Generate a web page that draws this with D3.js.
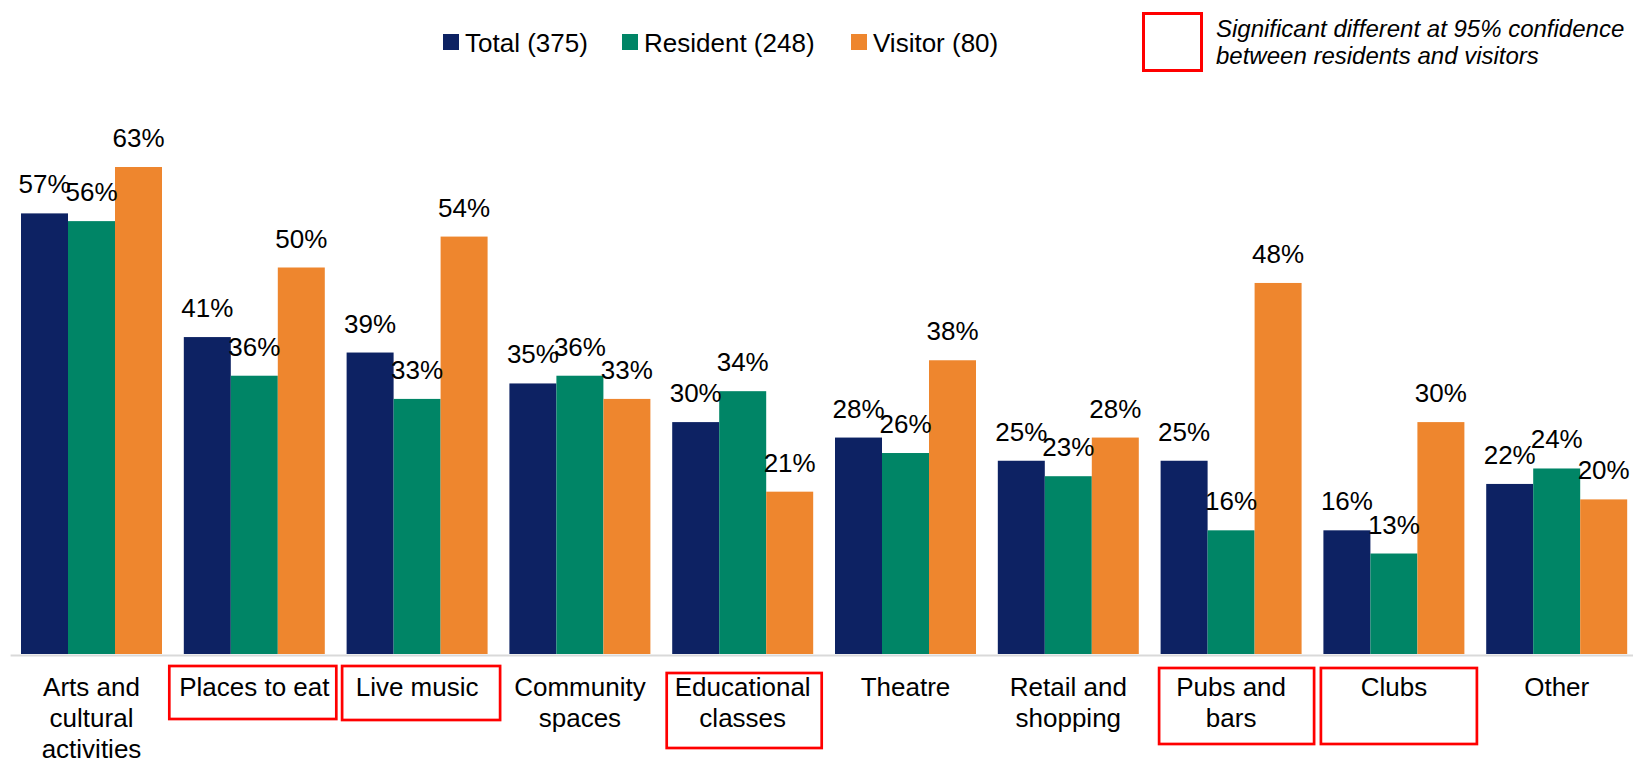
<!DOCTYPE html>
<html>
<head>
<meta charset="utf-8">
<script src="https://cdn.jsdelivr.net/npm/d3@7/dist/d3.min.js"></script>
<style>
  html, body { margin: 0; padding: 0; background: #ffffff; }
  svg { display: block; font-family: "Liberation Sans", Arial, Helvetica, sans-serif; }
</style>
</head>
<body>
<svg id="chart" width="1633" height="764"></svg>
<script>
// Activity categories (x axis), with their wrapped label lines
const categories = [
  "Arts and cultural activities", "Places to eat", "Live music", "Community spaces",
  "Educational classes", "Theatre", "Retail and shopping", "Pubs and bars", "Clubs", "Other"
];
const categoryLines = [
  ["Arts and", "cultural", "activities"], ["Places to eat"], ["Live music"], ["Community", "spaces"],
  ["Educational", "classes"], ["Theatre"], ["Retail and", "shopping"], ["Pubs and", "bars"], ["Clubs"], ["Other"]
];

// Series names and values (%)
const seriesNames = ["Total (375)", "Resident (248)", "Visitor (80)"];
const totalValues    = [57, 41, 39, 35, 30, 28, 25, 25, 16, 22];
const residentValues = [56, 36, 33, 36, 34, 26, 23, 16, 13, 24];
const visitorValues  = [63, 50, 54, 33, 21, 38, 28, 48, 30, 20];

// Categories where residents and visitors differ significantly
const significant = ["Places to eat", "Live music", "Educational classes", "Pubs and bars", "Clubs"];

const noteLines = ["Significant different at 95% confidence", "between residents and visitors"];

const colors = ["#0d2263", "#008566", "#ee862e"];
const seriesValues = [totalValues, residentValues, visitorValues];

const svg = d3.select("#chart");
const baseline = 654;

// Scales
const x0 = d3.scaleBand()
  .domain(categories)
  .range([10.1, 1638.1])
  .paddingInner(0.134)
  .paddingOuter(0.067);

const x1 = d3.scaleBand()
  .domain(seriesNames)
  .range([0, x0.bandwidth()])
  .padding(0);

const y = d3.scaleLinear()
  .domain([0, 100])
  .range([baseline, baseline - 773]);

const color = d3.scaleOrdinal().domain(seriesNames).range(colors);

// Bars
const rows = categories.map((c, i) => ({
  category: c,
  values: seriesNames.map((s, k) => ({ series: s, value: seriesValues[k][i] }))
}));

const groups = svg.append("g")
  .selectAll("g")
  .data(rows)
  .join("g")
  .attr("transform", d => `translate(${x0(d.category)},0)`);

groups.selectAll("rect")
  .data(d => d.values)
  .join("rect")
  .attr("x", d => x1(d.series))
  .attr("y", d => y(d.value))
  .attr("width", x1.bandwidth())
  .attr("height", d => y(0) - y(d.value))
  .attr("fill", d => color(d.series));

// Value labels
groups.selectAll("text")
  .data(d => d.values)
  .join("text")
  .attr("x", d => x1(d.series) + x1.bandwidth() / 2)
  .attr("y", d => y(d.value) - 20)
  .attr("text-anchor", "middle")
  .attr("font-size", 26)
  .attr("fill", "#000")
  .text(d => d.value + "%");

// X axis baseline
const xAxis = svg.append("g")
  .attr("transform", `translate(0,${baseline + 1})`)
  .call(d3.axisBottom(x0).tickSize(0).tickFormat(""));
xAxis.select(".domain").attr("stroke", "#d9d9d9").attr("stroke-width", 2);

// Category labels
const catLabels = svg.append("g")
  .selectAll("text")
  .data(categories)
  .join("text")
  .attr("text-anchor", "middle")
  .attr("font-size", 26)
  .attr("fill", "#000")
  .attr("transform", d => `translate(${x0(d) + x0.bandwidth() / 2},696)`);

catLabels.selectAll("tspan")
  .data((d, i) => categoryLines[i])
  .join("tspan")
  .attr("x", 0)
  .attr("y", (d, i) => i * 31)
  .text(d => d);

// Outline boxes around categories with a significant difference
const boxGeom = {
  "Places to eat":       { left: -85, right: 82, top: 666, height: 53 },
  "Live music":          { left: -75, right: 83, top: 666, height: 54 },
  "Educational classes": { left: -76, right: 79, top: 673, height: 75 },
  "Pubs and bars":       { left: -72, right: 83, top: 668, height: 76 },
  "Clubs":               { left: -73, right: 83, top: 668, height: 76 }
};

svg.append("g")
  .selectAll("rect")
  .data(significant)
  .join("rect")
  .attr("x", d => x0(d) + x0.bandwidth() / 2 + boxGeom[d].left)
  .attr("y", d => boxGeom[d].top)
  .attr("width", d => boxGeom[d].right - boxGeom[d].left)
  .attr("height", d => boxGeom[d].height)
  .attr("fill", "none")
  .attr("stroke", "#ff0000")
  .attr("stroke-width", 2.7);

// Legend
const legendX = [443, 622, 851];
const legend = svg.append("g")
  .selectAll("g")
  .data(seriesNames)
  .join("g")
  .attr("transform", (d, i) => `translate(${legendX[i]},34)`);

legend.append("rect")
  .attr("width", 16)
  .attr("height", 16)
  .attr("fill", d => color(d));

legend.append("text")
  .attr("x", 22)
  .attr("y", 18)
  .attr("font-size", 26)
  .attr("fill", "#000")
  .text(d => d);

// Significance note
const note = svg.append("g");
note.append("rect")
  .attr("x", 1143.5)
  .attr("y", 13.5)
  .attr("width", 58)
  .attr("height", 57)
  .attr("fill", "none")
  .attr("stroke", "#ff0000")
  .attr("stroke-width", 3);

note.append("text")
  .attr("font-size", 24)
  .attr("font-style", "italic")
  .attr("fill", "#000")
  .selectAll("tspan")
  .data(noteLines)
  .join("tspan")
  .attr("x", 1216)
  .attr("y", (d, i) => 37 + i * 27)
  .text(d => d);
</script>
</body>
</html>
